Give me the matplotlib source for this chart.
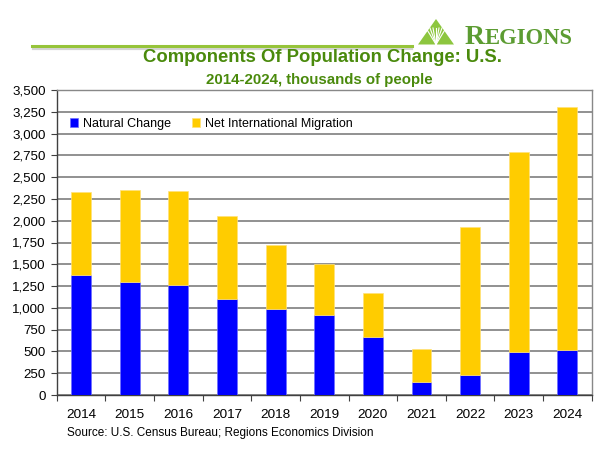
import matplotlib
matplotlib.use("Agg")
import matplotlib.pyplot as plt
import numpy as np
from matplotlib.lines import Line2D
from matplotlib.patches import Polygon

plt.rcParams['font.family'] = ['Liberation Sans', 'DejaVu Sans']

years = ['2014', '2015', '2016', '2017', '2018', '2019', '2020', '2021', '2022', '2023', '2024']
natural_change = [1377, 1293, 1262, 1098, 991, 918, 670, 145, 226, 493, 516]
net_intl_migration = [953, 1059, 1079, 956, 727, 585, 497, 383, 1702, 2299, 2789]
y_ticks = list(range(0, 3501, 250))

W, H = 600, 451
fig = plt.figure(figsize=(W / 100, H / 100), dpi=100)


def px(x, y):
    return (x / W, 1 - y / H)


ax = fig.add_axes([56.7 / W, 1 - 395 / H, (591.7 - 56.7) / W, (395 - 90) / H])
x = np.arange(len(years))
ax.bar(x, natural_change, width=0.41, color='#0000ff', edgecolor='#6f6fff',
       linewidth=0.5, label='Natural Change', zorder=3)
ax.bar(x, net_intl_migration, bottom=natural_change, width=0.41, color='#ffcc00',
       edgecolor='#ffe27a', linewidth=0.5, label='Net International Migration', zorder=3)

ax.set_xlim(-0.5, len(years) - 0.5)
ax.set_ylim(0, 3500)
ax.set_yticks(y_ticks)
ax.set_yticklabels([f'{v:,}' for v in y_ticks], fontsize=9.6)
ax.set_xticks(x)
ax.set_xticklabels(years, fontsize=9.7)
ax.set_xticks(np.arange(-0.5, len(years)), minor=True)
ax.tick_params(axis='x', which='major', length=0, pad=10)
ax.tick_params(axis='x', which='minor', length=4, width=0.8, color='#404040', direction='out')
ax.tick_params(axis='y', length=4, width=0.8, color='#404040', direction='out', pad=4)
ax.yaxis.grid(True, color='#888888', linewidth=1.3, zorder=0)
ax.set_axisbelow(True)
for s in ['left', 'bottom']:
    ax.spines[s].set_color('#404040')
    ax.spines[s].set_linewidth(1.0)
for s in ['right', 'top']:
    ax.spines[s].set_color('#888888')
    ax.spines[s].set_linewidth(1.0)

leg = ax.legend(loc='center left', bbox_to_anchor=px(70, 124), bbox_transform=fig.transFigure,
                ncol=2, frameon=False, fontsize=9, handlelength=0.64, handleheight=0.64,
                handletextpad=0.4, columnspacing=1.7, borderaxespad=0, borderpad=0)

# Titles
fig.text(*px(322, 58), 'Components Of Population Change: U.S.', ha='center', va='center',
         fontsize=13.3, fontweight='bold', color='#4a8a0c')
fig.text(*px(319, 80), '2014-2024, thousands of people', ha='center', va='center',
         fontsize=10.8, fontweight='bold', color='#4a8a0c')
fig.text(*px(220, 433), 'Source: U.S. Census Bureau; Regions Economics Division', ha='center',
         va='center', fontsize=8.5, color='black')

# Header line with shadow
fig.add_artist(Line2D([33 / W, 412 / W], [1 - 48.5 / H, 1 - 48.5 / H], color='#d4d4d4', lw=1.6,
                      transform=fig.transFigure))
fig.add_artist(Line2D([32 / W, 412 / W], [1 - 45.7 / H, 1 - 45.7 / H], color='#96c43a', lw=2.2,
                      transform=fig.transFigure))

# Logo triangle
tri = Polygon([px(418, 44.5), px(454, 44.5), px(436, 19)], closed=True, facecolor='#8dc63f',
              edgecolor='none', transform=fig.transFigure)
fig.add_artist(tri)
for dx in [-10, -6, -3, 0, 3, 6, 10]:
    fig.add_artist(Line2D([436 / W, (436 + dx) / W], [1 - 44.5 / H, 1 - 28 / H], color='white',
                          lw=0.8, transform=fig.transFigure))
fig.text(*px(465, 44.5), 'R', ha='left', va='baseline', fontsize=20, color='#5c9c32',
         family='Liberation Serif', fontweight='bold')
fig.text(*px(485, 44.5), 'EGIONS', ha='left', va='baseline', fontsize=16.3, color='#5c9c32',
         family='Liberation Serif', fontweight='bold')

fig.savefig('out.png', dpi=100)
